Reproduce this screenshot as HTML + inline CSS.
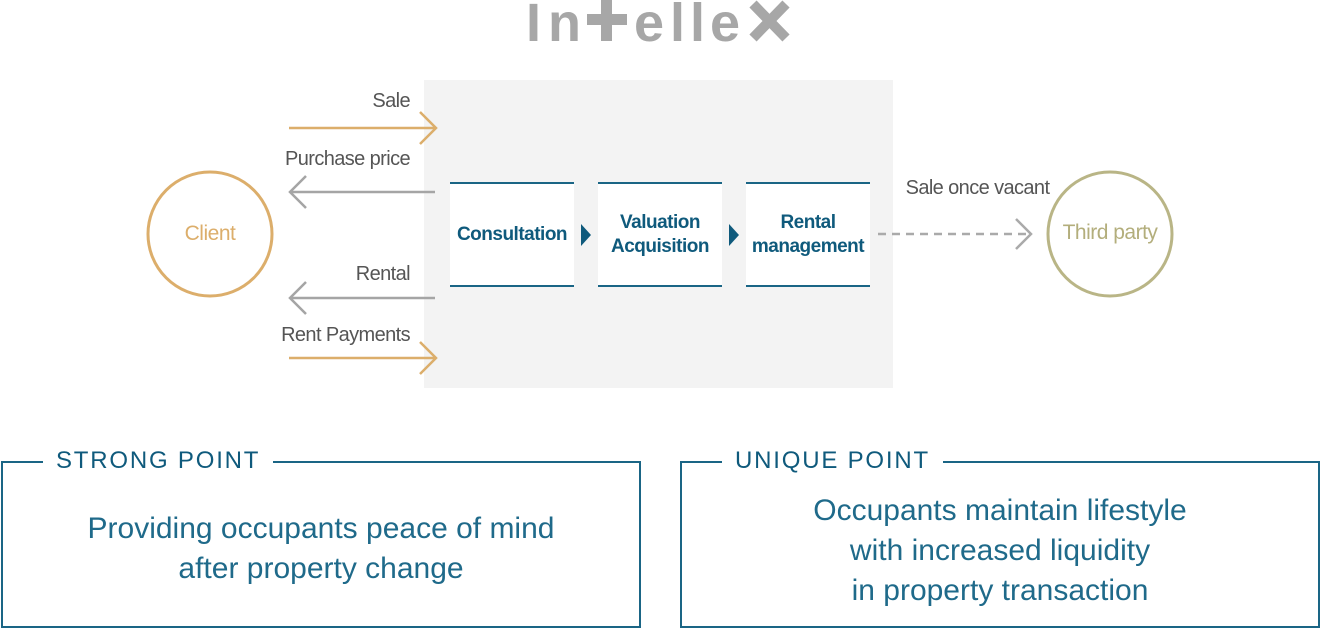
<!DOCTYPE html>
<html><head><meta charset="utf-8"><style>
body{margin:0;width:1320px;height:629px;background:#fff;position:relative;overflow:hidden;font-family:"Liberation Sans",sans-serif}
.a{position:absolute}
.lg{position:absolute;top:-7px;font-size:54px;font-weight:bold;color:#a7a7a7;line-height:60px}
.lbl{position:absolute;font-size:20px;color:#555;text-align:right;width:300px;letter-spacing:-0.6px}
.box{position:absolute;top:182px;width:124px;height:101px;background:#fff;border-top:2px solid #1a6585;border-bottom:2px solid #1a6585;display:flex;align-items:center;justify-content:center;text-align:center;color:#0f5a7c;font-size:19px;line-height:24px;font-weight:bold;letter-spacing:-0.5px}
.tri{position:absolute;width:0;height:0;border-top:11px solid transparent;border-bottom:11px solid transparent;border-left:10px solid #0f5a7c;top:224px}
.pb{position:absolute;top:461px;height:163px;border:2px solid #1a6585}
.pt{position:absolute;top:-16px;background:#fff;padding:0 13px;font-size:24px;letter-spacing:1.8px;color:#0f5a7c}
.pc{position:absolute;left:0;right:0;text-align:center;color:#1f6a8a;font-size:30px;line-height:40px}
</style></head><body>
<div class="lg" style="left:526px">I</div>
<div class="lg" style="left:548px">n</div>
<div class="a" style="left:601px;top:0;width:11px;height:41px;background:#a7a7a7"></div>
<div class="a" style="left:587px;top:14px;width:40px;height:11px;background:#a7a7a7"></div>
<div class="lg" style="left:634px">e</div>
<div class="lg" style="left:670px">l</div>
<div class="lg" style="left:690px">l</div>
<div class="lg" style="left:710px">e</div>
<svg class="a" style="left:746px;top:0" width="48" height="45"><path d="M7 4 L40 38 M40 4 L7 38" stroke="#a7a7a7" stroke-width="10"/></svg>
<div class="a" style="left:424px;top:80px;width:469px;height:308px;background:#f3f3f3"></div>
<svg class="a" style="left:0;top:0" width="1320" height="420">
<g fill="none" stroke-width="2.5">
<path d="M289 128H436M420 112L436 128L420 144" stroke="#dcae6b"/>
<path d="M289 358H436M420 342L436 358L420 374" stroke="#dcae6b"/>
<path d="M435 192H290M306 176L290 192L306 208" stroke="#a5a5a5"/>
<path d="M435 298H290M306 282L290 298L306 314" stroke="#a5a5a5"/>
<path d="M878 234H1030" stroke="#aaa" stroke-dasharray="8 6"/>
<path d="M1016 219L1031 234L1016 249" stroke="#aaa"/>
<circle cx="210" cy="234" r="62" stroke="#dcae6b" stroke-width="3"/>
<circle cx="1110" cy="234" r="62" stroke="#b9b586" stroke-width="3"/>
</g></svg>
<div class="lbl" style="left:110px;top:90px">Sale</div>
<div class="lbl" style="left:110px;top:148px">Purchase price</div>
<div class="lbl" style="left:110px;top:263px">Rental</div>
<div class="lbl" style="left:110px;top:324px">Rent Payments</div>
<div class="a" style="left:875px;top:177px;width:205px;text-align:center;font-size:20px;color:#555;letter-spacing:-0.6px">Sale once vacant</div>
<div class="a" style="left:148px;top:222px;width:124px;text-align:center;font-size:21px;color:#dcae6b;letter-spacing:-0.5px">Client</div>
<div class="a" style="left:1040px;top:221px;width:140px;text-align:center;font-size:21px;color:#b3ae7c;letter-spacing:-0.5px">Third party</div>
<div class="box" style="left:450px">Consultation</div>
<div class="box" style="left:598px">Valuation<br>Acquisition</div>
<div class="box" style="left:746px">Rental<br>management</div>
<div class="tri" style="left:581px"></div>
<div class="tri" style="left:729px"></div>
<div class="pb" style="left:1px;width:636px"><div class="pt" style="left:40px">STRONG POINT</div>
<div class="pc" style="top:46px">Providing occupants peace of mind<br>after property change</div></div>
<div class="pb" style="left:680px;width:636px"><div class="pt" style="left:40px">UNIQUE POINT</div>
<div class="pc" style="top:28px">Occupants maintain lifestyle<br>with increased liquidity<br>in property transaction</div></div>
</body></html>
